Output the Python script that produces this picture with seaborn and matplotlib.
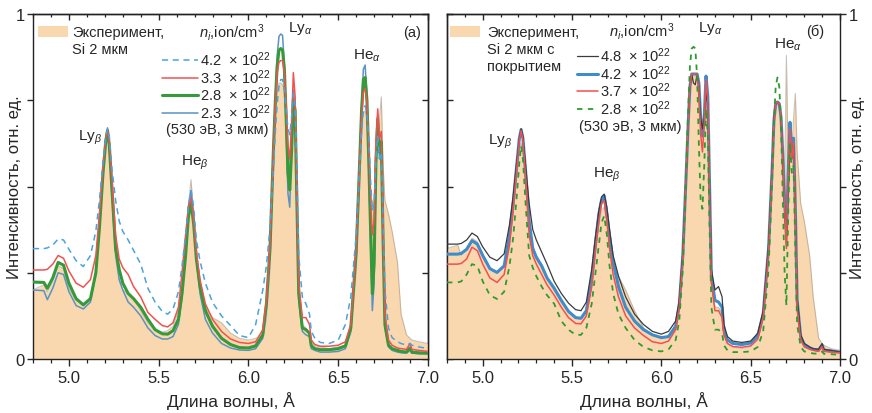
import matplotlib
matplotlib.use("Agg")
import matplotlib.pyplot as plt
import seaborn as sns
from matplotlib.ticker import MultipleLocator, FixedLocator, NullFormatter
from matplotlib.lines import Line2D
from matplotlib.patches import Rectangle

# ---------------- data ----------------
WAVELENGTH = [4.80, 4.86, 4.88, 4.91, 4.94, 4.97, 5.00, 5.04, 5.08, 5.12,
              5.15, 5.17, 5.19, 5.205, 5.215, 5.225, 5.24, 5.26, 5.28, 5.30,
              5.33, 5.36, 5.40, 5.44, 5.48, 5.52, 5.55, 5.58, 5.61, 5.63,
              5.65, 5.665, 5.68, 5.695, 5.71, 5.73, 5.76, 5.80, 5.85, 5.90,
              5.95, 6.00, 6.04, 6.08, 6.10, 6.12, 6.14, 6.15, 6.16, 6.17,
              6.18, 6.19, 6.20, 6.21, 6.22, 6.23, 6.24, 6.25, 6.26, 6.27,
              6.28, 6.30, 6.32, 6.34, 6.35, 6.37, 6.40, 6.45, 6.50, 6.54,
              6.57, 6.60, 6.62, 6.63, 6.64, 6.65, 6.66, 6.67, 6.68, 6.69,
              6.70, 6.71, 6.72, 6.73, 6.74, 6.75, 6.76, 6.78, 6.80, 6.83,
              6.85, 6.88, 6.90, 6.91, 6.95, 7.00]

# panel (a): experiment Si 2 um
EXP_A = [0.200, 0.215, 0.195, 0.225, 0.270, 0.262, 0.205, 0.170, 0.160, 0.175,
         0.240, 0.360, 0.510, 0.610, 0.655, 0.610, 0.450, 0.290, 0.230, 0.200,
         0.190, 0.175, 0.140, 0.105, 0.085, 0.078, 0.082, 0.095, 0.140, 0.230,
         0.340, 0.440, 0.520, 0.420, 0.290, 0.200, 0.150, 0.120, 0.105, 0.075,
         0.060, 0.055, 0.060, 0.070, 0.110, 0.250, 0.560, 0.700, 0.770, 0.800,
         0.800, 0.795, 0.780, 0.700, 0.600, 0.560, 0.640, 0.720, 0.670, 0.400,
         0.180, 0.100, 0.090, 0.070, 0.045, 0.040, 0.035, 0.030, 0.035, 0.040,
         0.070, 0.250, 0.520, 0.650, 0.710, 0.720, 0.700, 0.600, 0.500, 0.440,
         0.460, 0.580, 0.680, 0.700, 0.760, 0.560, 0.460, 0.420, 0.370, 0.280,
         0.130, 0.070, 0.060, 0.055, 0.050, 0.045]
A_42 = [0.320, 0.320, 0.322, 0.330, 0.348, 0.345, 0.318, 0.285, 0.268, 0.300,
        0.370, 0.460, 0.570, 0.640, 0.667, 0.645, 0.550, 0.460, 0.400, 0.370,
        0.345, 0.315, 0.275, 0.205, 0.165, 0.138, 0.130, 0.145, 0.195, 0.270,
        0.360, 0.440, 0.488, 0.440, 0.345, 0.285, 0.220, 0.164, 0.125, 0.097,
        0.068, 0.062, 0.100, 0.200, 0.270, 0.380, 0.560, 0.660, 0.740, 0.790,
        0.810, 0.810, 0.780, 0.720, 0.670, 0.650, 0.700, 0.770, 0.730, 0.540,
        0.300, 0.180, 0.160, 0.130, 0.080, 0.060, 0.048, 0.045, 0.055, 0.100,
        0.180, 0.360, 0.560, 0.660, 0.720, 0.734, 0.710, 0.640, 0.520, 0.430,
        0.450, 0.580, 0.647, 0.580, 0.600, 0.400, 0.200, 0.090, 0.062, 0.050,
        0.045, 0.040, 0.045, 0.040, 0.035, 0.030]
A_33 = [0.258, 0.258, 0.260, 0.275, 0.300, 0.292, 0.255, 0.220, 0.208, 0.230,
        0.300, 0.420, 0.560, 0.640, 0.665, 0.630, 0.520, 0.360, 0.290, 0.265,
        0.245, 0.210, 0.180, 0.135, 0.115, 0.097, 0.093, 0.105, 0.150, 0.250,
        0.360, 0.440, 0.468, 0.400, 0.310, 0.230, 0.160, 0.115, 0.080, 0.058,
        0.048, 0.045, 0.050, 0.085, 0.170, 0.330, 0.620, 0.740, 0.830, 0.860,
        0.865, 0.865, 0.830, 0.740, 0.620, 0.580, 0.680, 0.830, 0.760, 0.470,
        0.220, 0.120, 0.120, 0.100, 0.055, 0.042, 0.037, 0.037, 0.040, 0.050,
        0.100, 0.320, 0.580, 0.700, 0.775, 0.783, 0.740, 0.620, 0.470, 0.360,
        0.400, 0.630, 0.725, 0.640, 0.660, 0.380, 0.130, 0.055, 0.040, 0.032,
        0.030, 0.028, 0.045, 0.028, 0.025, 0.022]
A_28 = [0.223, 0.222, 0.205, 0.235, 0.280, 0.272, 0.220, 0.175, 0.157, 0.175,
        0.250, 0.380, 0.540, 0.630, 0.662, 0.620, 0.490, 0.320, 0.260, 0.220,
        0.190, 0.175, 0.150, 0.115, 0.085, 0.073, 0.072, 0.082, 0.115, 0.190,
        0.300, 0.410, 0.455, 0.390, 0.290, 0.210, 0.140, 0.095, 0.060, 0.042,
        0.033, 0.032, 0.038, 0.070, 0.160, 0.320, 0.620, 0.750, 0.850, 0.895,
        0.900, 0.895, 0.840, 0.700, 0.540, 0.490, 0.600, 0.750, 0.720, 0.450,
        0.190, 0.090, 0.085, 0.075, 0.038, 0.030, 0.027, 0.027, 0.030, 0.038,
        0.090, 0.310, 0.580, 0.720, 0.810, 0.816, 0.750, 0.580, 0.380, 0.190,
        0.280, 0.570, 0.696, 0.600, 0.630, 0.340, 0.100, 0.040, 0.030, 0.025,
        0.022, 0.020, 0.032, 0.020, 0.018, 0.017]
A_23 = [0.200, 0.198, 0.172, 0.205, 0.250, 0.245, 0.195, 0.155, 0.145, 0.165,
        0.250, 0.380, 0.540, 0.640, 0.670, 0.620, 0.480, 0.310, 0.230, 0.200,
        0.165, 0.150, 0.125, 0.090, 0.068, 0.058, 0.058, 0.065, 0.100, 0.180,
        0.310, 0.440, 0.488, 0.410, 0.290, 0.190, 0.115, 0.075, 0.045, 0.032,
        0.026, 0.025, 0.030, 0.060, 0.150, 0.310, 0.630, 0.760, 0.880, 0.935,
        0.942, 0.938, 0.850, 0.660, 0.480, 0.440, 0.620, 0.780, 0.720, 0.420,
        0.170, 0.080, 0.070, 0.065, 0.030, 0.025, 0.020, 0.020, 0.022, 0.030,
        0.080, 0.300, 0.580, 0.730, 0.840, 0.852, 0.760, 0.550, 0.340, 0.140,
        0.220, 0.550, 0.705, 0.580, 0.620, 0.320, 0.090, 0.035, 0.025, 0.020,
        0.018, 0.017, 0.025, 0.017, 0.015, 0.015]

# panel (б): experiment Si 2 um with coating
EXP_B = [0.320, 0.330, 0.300, 0.320, 0.350, 0.340, 0.300, 0.265, 0.250, 0.270,
         0.340, 0.420, 0.520, 0.600, 0.625, 0.600, 0.500, 0.400, 0.330, 0.300,
         0.270, 0.235, 0.200, 0.165, 0.135, 0.120, 0.118, 0.135, 0.200, 0.290,
         0.380, 0.430, 0.440, 0.400, 0.340, 0.290, 0.240, 0.200, 0.140, 0.090,
         0.070, 0.060, 0.065, 0.090, 0.150, 0.290, 0.540, 0.670, 0.780, 0.820,
         0.820, 0.820, 0.820, 0.780, 0.680, 0.640, 0.690, 0.800, 0.740, 0.480,
         0.220, 0.150, 0.150, 0.130, 0.070, 0.045, 0.035, 0.030, 0.035, 0.055,
         0.110, 0.300, 0.530, 0.680, 0.730, 0.740, 0.730, 0.690, 0.600, 0.520,
         0.880, 0.560, 0.640, 0.600, 0.700, 0.770, 0.600, 0.450, 0.400, 0.300,
         0.180, 0.060, 0.045, 0.040, 0.030, 0.025]
B_48 = [0.333, 0.333, 0.335, 0.345, 0.365, 0.355, 0.325, 0.295, 0.285, 0.305,
        0.390, 0.470, 0.570, 0.640, 0.667, 0.645, 0.560, 0.450, 0.375, 0.345,
        0.310, 0.275, 0.225, 0.190, 0.162, 0.143, 0.140, 0.165, 0.260, 0.350,
        0.430, 0.470, 0.478, 0.440, 0.375, 0.300, 0.240, 0.180, 0.130, 0.100,
        0.080, 0.072, 0.080, 0.110, 0.170, 0.310, 0.550, 0.680, 0.790, 0.826,
        0.800, 0.795, 0.826, 0.790, 0.700, 0.667, 0.700, 0.770, 0.740, 0.500,
        0.260, 0.200, 0.210, 0.180, 0.100, 0.065, 0.052, 0.048, 0.052, 0.075,
        0.140, 0.330, 0.560, 0.700, 0.740, 0.745, 0.740, 0.700, 0.580, 0.440,
        0.330, 0.480, 0.640, 0.580, 0.620, 0.440, 0.180, 0.070, 0.045, 0.035,
        0.030, 0.028, 0.045, 0.028, 0.025, 0.020]
B_42 = [0.304, 0.304, 0.306, 0.318, 0.343, 0.333, 0.300, 0.262, 0.251, 0.270,
        0.360, 0.450, 0.560, 0.640, 0.665, 0.640, 0.545, 0.400, 0.320, 0.295,
        0.270, 0.235, 0.205, 0.170, 0.138, 0.120, 0.118, 0.140, 0.230, 0.330,
        0.420, 0.460, 0.473, 0.420, 0.355, 0.280, 0.210, 0.150, 0.110, 0.085,
        0.070, 0.062, 0.065, 0.095, 0.155, 0.300, 0.550, 0.680, 0.790, 0.826,
        0.826, 0.826, 0.826, 0.800, 0.700, 0.647, 0.700, 0.820, 0.760, 0.500,
        0.240, 0.170, 0.165, 0.150, 0.085, 0.055, 0.045, 0.042, 0.046, 0.068,
        0.130, 0.320, 0.550, 0.690, 0.740, 0.745, 0.740, 0.700, 0.590, 0.460,
        0.360, 0.540, 0.686, 0.600, 0.640, 0.440, 0.170, 0.065, 0.042, 0.032,
        0.028, 0.026, 0.040, 0.026, 0.023, 0.020]
B_37 = [0.275, 0.275, 0.277, 0.290, 0.324, 0.314, 0.275, 0.235, 0.222, 0.245,
        0.330, 0.430, 0.550, 0.635, 0.662, 0.635, 0.530, 0.360, 0.300, 0.275,
        0.245, 0.215, 0.185, 0.150, 0.120, 0.103, 0.102, 0.125, 0.210, 0.310,
        0.400, 0.450, 0.459, 0.400, 0.320, 0.245, 0.180, 0.125, 0.090, 0.068,
        0.050, 0.045, 0.052, 0.085, 0.150, 0.295, 0.550, 0.680, 0.790, 0.826,
        0.826, 0.826, 0.826, 0.780, 0.650, 0.600, 0.680, 0.810, 0.750, 0.480,
        0.220, 0.140, 0.140, 0.120, 0.070, 0.045, 0.036, 0.034, 0.038, 0.058,
        0.120, 0.310, 0.545, 0.690, 0.740, 0.745, 0.740, 0.700, 0.580, 0.440,
        0.320, 0.520, 0.670, 0.580, 0.630, 0.420, 0.150, 0.055, 0.035, 0.028,
        0.025, 0.022, 0.035, 0.022, 0.020, 0.018]
B_28 = [0.222, 0.222, 0.225, 0.245, 0.275, 0.270, 0.225, 0.185, 0.174, 0.195,
        0.270, 0.350, 0.470, 0.570, 0.618, 0.580, 0.450, 0.300, 0.265, 0.240,
        0.210, 0.185, 0.160, 0.110, 0.085, 0.070, 0.070, 0.090, 0.160, 0.245,
        0.330, 0.395, 0.415, 0.360, 0.270, 0.190, 0.130, 0.090, 0.055, 0.035,
        0.025, 0.022, 0.028, 0.055, 0.110, 0.260, 0.560, 0.720, 0.850, 0.900,
        0.905, 0.900, 0.820, 0.620, 0.460, 0.435, 0.560, 0.725, 0.650, 0.380,
        0.150, 0.085, 0.085, 0.075, 0.040, 0.025, 0.020, 0.020, 0.022, 0.035,
        0.080, 0.260, 0.520, 0.680, 0.790, 0.816, 0.790, 0.680, 0.460, 0.250,
        0.155, 0.420, 0.628, 0.540, 0.560, 0.320, 0.100, 0.035, 0.022, 0.018,
        0.016, 0.015, 0.022, 0.015, 0.014, 0.012]

LABELS_A = ["4.2  \u00d7 10$^{22}$", "3.3  \u00d7 10$^{22}$",
            "2.8  \u00d7 10$^{22}$", "2.3  \u00d7 10$^{22}$"]
LABELS_B = ["4.8  \u00d7 10$^{22}$", "4.2  \u00d7 10$^{22}$",
            "3.7  \u00d7 10$^{22}$", "2.8  \u00d7 10$^{22}$"]

# ---------------- style ----------------
sns.set_style("ticks")
plt.rcParams["font.family"] = ["Liberation Sans", "DejaVu Sans"]
plt.rcParams["mathtext.fontset"] = "custom"
plt.rcParams["mathtext.rm"] = "Liberation Sans"
plt.rcParams["mathtext.it"] = "Liberation Sans:italic"
plt.rcParams["mathtext.bf"] = "Liberation Sans:bold"
plt.rcParams["axes.linewidth"] = 1.0
plt.rcParams["axes.edgecolor"] = "#222222"

FILL = "#FAD8AF"
NOISE = "#9d958b"
FS_LEG = 10.5

fig = plt.figure(figsize=(8.72, 4.14), dpi=100)
axA = fig.add_axes([33 / 872, 54 / 414, 395 / 872, 345 / 414])
axB = fig.add_axes([447 / 872, 54 / 414, 393 / 872, 345 / 414])


def draw(ax, exp, series):
    ax.fill_between(WAVELENGTH, 0, exp, color=FILL, lw=0, zorder=1)
    sns.lineplot(x=WAVELENGTH, y=exp, ax=ax, color=NOISE, lw=0.8, alpha=0.55,
                 sort=False, estimator=None, zorder=2)
    handles = []
    for vals, color, lw, ls, z in series:
        sns.lineplot(x=WAVELENGTH, y=vals, ax=ax, color=color, lw=lw,
                     linestyle=ls, sort=False, estimator=None, zorder=z)
        handles.append(Line2D([], [], color=color, lw=lw, linestyle=ls))
    return handles


series_a = [(A_42, "#4aa3db", 1.1, (0, (4, 3)), 6),
            (A_33, "#f0524f", 1.1, "-", 5),
            (A_28, "#36993a", 2.2, "-", 4),
            (A_23, "#5b93bf", 1.1, "-", 3.5)]
series_b = [(B_48, "#3b3b3b", 0.9, "-", 4),
            (B_42, "#3d8ccb", 2.2, "-", 3.5),
            (B_37, "#f2504d", 1.1, "-", 5),
            (B_28, "#2f9b2f", 1.3, (0, (3, 3)), 6)]

hA = draw(axA, EXP_A, series_a)
hB = draw(axB, EXP_B, series_b)


def style_axes(ax, side):
    ax.set_xlim(4.8, 7.0)
    ax.set_ylim(0, 1)
    ax.xaxis.set_major_locator(MultipleLocator(0.5))
    ax.xaxis.set_minor_locator(MultipleLocator(0.1))
    ax.xaxis.set_major_formatter(matplotlib.ticker.FormatStrFormatter("%.1f"))
    ax.yaxis.set_major_locator(FixedLocator([0, 0.25, 0.5, 0.75, 1.0]))
    ax.set_yticklabels(["0", "", "", "", "1"])
    ax.tick_params(axis="x", which="major", direction="out", length=5,
                   width=1, labelsize=12, pad=3)
    ax.tick_params(axis="x", which="minor", direction="out", length=3,
                   width=0.9)
    ax.set_xlabel("Длина волны, Å", fontsize=12.5, labelpad=4)
    top = ax.secondary_xaxis("top")
    top.xaxis.set_major_locator(MultipleLocator(0.5))
    top.xaxis.set_minor_locator(MultipleLocator(0.1))
    top.xaxis.set_major_formatter(NullFormatter())
    top.tick_params(axis="x", which="major", direction="in", length=4, width=1)
    top.tick_params(axis="x", which="minor", direction="in", length=2.5,
                    width=0.9)
    other = "right" if side == "left" else "left"
    if side == "right":
        ax.yaxis.tick_right()
        ax.yaxis.set_label_position("right")
    ax.tick_params(axis="y", direction="out", length=4, width=1,
                   labelsize=12, pad=2)
    sec = ax.secondary_yaxis(other)
    sec.yaxis.set_major_locator(FixedLocator([0, 0.25, 0.5, 0.75, 1.0]))
    sec.yaxis.set_major_formatter(NullFormatter())
    sec.tick_params(axis="y", direction="in", length=4, width=1)
    ax.set_ylabel("Интенсивность, отн. ед.", fontsize=12)
    if side == "left":
        ax.yaxis.set_label_coords(-0.028, 0.5)
    else:
        ax.yaxis.set_label_coords(1.026, 0.5)
    for s in ax.spines.values():
        s.set_visible(True)


style_axes(axA, "left")
style_axes(axB, "right")

# ---- legends ----
def exp_legend(ax, text, x0, xt, width_frac):
    ax.add_patch(Rectangle((x0, 0.933), width_frac, 0.032, transform=ax.transAxes,
                           facecolor=FILL, edgecolor="none", zorder=7))
    ax.text(xt, 0.967, text, transform=ax.transAxes, fontsize=FS_LEG,
            va="top", ha="left", linespacing=1.25, zorder=8)


exp_legend(axA, "Эксперимент,\nSi 2 мкм", 0.013, 0.099, 0.076)
exp_legend(axB, "Эксперимент,\nSi 2 мкм с\nпокрытием", 0.008, 0.102, 0.076)

legA = axA.legend(hA, LABELS_A, loc="upper left",
                  bbox_to_anchor=(0.327, 0.896), frameon=False,
                  fontsize=FS_LEG, handlelength=2.45,
                  handletextpad=0.15, labelspacing=-0.08, borderpad=0,
                  borderaxespad=0)
legA.set_zorder(8)
legB = axB.legend(hB, LABELS_B, loc="upper left",
                  bbox_to_anchor=(0.331, 0.908), frameon=False,
                  fontsize=FS_LEG, handlelength=1.45,
                  handletextpad=0.15, labelspacing=-0.08, borderpad=0,
                  borderaxespad=0)
legB.set_zorder(8)

TITLE = "$n_i$,ion/cm$^3$"
axA.text(0.585, 0.948, TITLE, transform=axA.transAxes, fontsize=FS_LEG,
         ha="right", va="center", zorder=8)
axB.text(0.578, 0.951, TITLE, transform=axB.transAxes, fontsize=FS_LEG,
         ha="right", va="center", zorder=8)

axA.text(0.466, 0.667, "(530 эВ, 3 мкм)", transform=axA.transAxes,
         fontsize=FS_LEG, ha="center", va="center", zorder=8)
axB.text(0.466, 0.675, "(530 эВ, 3 мкм)", transform=axB.transAxes,
         fontsize=FS_LEG, ha="center", va="center", zorder=8)

# panel labels
axA.text(0.96, 0.948, "(a)", transform=axA.transAxes, fontsize=FS_LEG,
         ha="center", va="center")
axB.text(0.936, 0.95, "(б)", transform=axB.transAxes, fontsize=FS_LEG,
         ha="center", va="center")

# line annotations
PEAK_FS = 11
for ax, pos in ((axA, [(0.144, 0.643, r"Ly$_\beta$"), (0.41, 0.571, r"He$_\beta$"),
                       (0.676, 0.962, r"Ly$_\alpha$"), (0.846, 0.881, r"He$_\alpha$")]),
                (axB, [(0.135, 0.632, r"Ly$_\beta$"), (0.407, 0.536, r"He$_\beta$"),
                       (0.669, 0.962, r"Ly$_\alpha$"), (0.868, 0.913, r"He$_\alpha$")])):
    for x, y, t in pos:
        ax.text(x, y, t, transform=ax.transAxes, fontsize=PEAK_FS,
                ha="center", va="center", zorder=8)

fig.savefig("out.png", dpi=100)
